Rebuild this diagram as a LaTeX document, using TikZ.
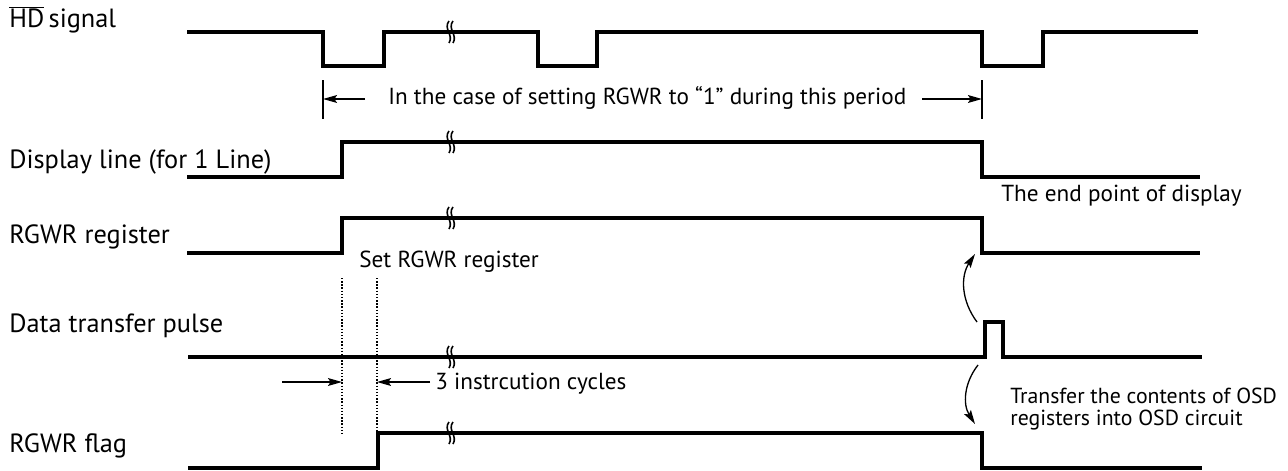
\documentclass[tikz,border=0pt]{standalone}
\usepackage{fontspec}
\setmainfont{PT Sans}
\usetikzlibrary{arrows, arrows.meta}
\tikzset{wave/.style = {line width = 2pt, line join = miter}}
\tikzset{bar/.style = {line width = 1.6pt}}
\tikzset{edge/.style = {-{Stealth[length = 8pt, width = 4.5pt, inset = 1.5pt]}, line width = 0.75pt}}
\tikzset{guide/.style = {densely dotted, line width = 0.8pt}}
\tikzset{brk/.style = {line width = 0.9pt}}
\tikzset{lbl/.style = {anchor = base west, inner sep = 0pt, font = \fontsize{15}{18}\selectfont}}
\tikzset{note/.style = {anchor = base west, inner sep = 0pt, font = \fontsize{13.2}{16}\selectfont}}

\begin{document}
\begin{tikzpicture}[x = 0.02cm, y = -0.02cm]
				\useasboundingbox (0, 0) rectangle (1288, 470);

				\node[lbl] (hdlbl) at (9, 28) {$\overline{\hbox{HD}}$\,signal};
				\node[lbl] (displbl) at (9, 168) {Display line (for 1 Line)};
				\node[lbl] (reglbl) at (9, 243) {RGWR register};
				\node[lbl] (pulselbl) at (9, 332) {Data transfer pulse};
				\node[lbl] (flaglbl) at (9, 452) {RGWR flag};

				\node[note] (periodtxt) at (388, 104) {In the case of setting RGWR to “1” during this period};
				\node[note] (endtxt) at (1001, 201) {The end point of display};
				\node[note] (settxt) at (359, 267) {Set RGWR register};
				\node[note] (cycletxt) at (435, 389) {3 instrcution cycles};
				\node[note, font = \fontsize{12.4}{15}\selectfont] (transfera) at (1010, 403) {Transfer the contents of OSD};
				\node[note, font = \fontsize{12.4}{15}\selectfont] (transferb) at (1010, 425) {registers into OSD circuit};

				\draw[wave] (187, 32) -- (323, 32) -- (323, 66) -- (384, 66) -- (384, 32) -- (538, 32) -- (538, 66) -- (597, 66) -- (597, 32) -- (982, 32) -- (982, 66) -- (1043, 66) -- (1043, 32) -- (1198, 32);
				\draw[wave] (187, 177) -- (342, 177) -- (342, 142) -- (982, 142) -- (982, 177) -- (1200, 177);
				\draw[wave] (187, 253) -- (342, 253) -- (342, 218) -- (982, 218) -- (982, 253) -- (1200, 253);
				\draw[wave] (188, 357) -- (985, 357) -- (985, 322) -- (1003, 322) -- (1003, 357) -- (1202, 357);
				\draw[wave] (188, 468) -- (378, 468) -- (378, 433) -- (982, 433) -- (982, 468) -- (1202, 468);

				\foreach \yy in {32, 142, 218, 357, 433} {
					\foreach \dx in {-2, 2} {
						\draw[brk] (451 + \dx, \yy - 11) .. controls (445 + \dx, \yy - 3) and (456 + \dx, \yy + 3) .. (451 + \dx, \yy + 11);
					}
				}

				\draw[bar] (323, 80) -- (323, 119);
				\draw[bar] (982, 80) -- (982, 119);
				\coordinate (pl) at (323, 99);
				\coordinate (pr) at (982, 99);
				\coordinate (plt) at (365, 99);
				\coordinate (prt) at (922, 99);
				\draw[edge] (plt) to (pl);
				\draw[edge] (prt) to (pr);

				\draw[guide] (342, 278) -- (342, 433);
				\draw[guide] (377, 278) -- (377, 433);
				\coordinate (cl) at (342, 382);
				\coordinate (cr) at (377, 382);
				\coordinate (clt) at (282, 382);
				\coordinate (crt) at (430, 382);
				\draw[edge] (clt) to (cl);
				\draw[edge] (crt) to (cr);

				\coordinate (upfrom) at (977, 322);
				\coordinate (upto) at (975, 254);
				\coordinate (dnfrom) at (978, 365);
				\coordinate (dnto) at (975, 424);
				\draw[edge] (upfrom) to[bend left = 35] (upto);
				\draw[edge] (dnfrom) to[bend right = 35] (dnto);
			\end{tikzpicture}
\end{document}
